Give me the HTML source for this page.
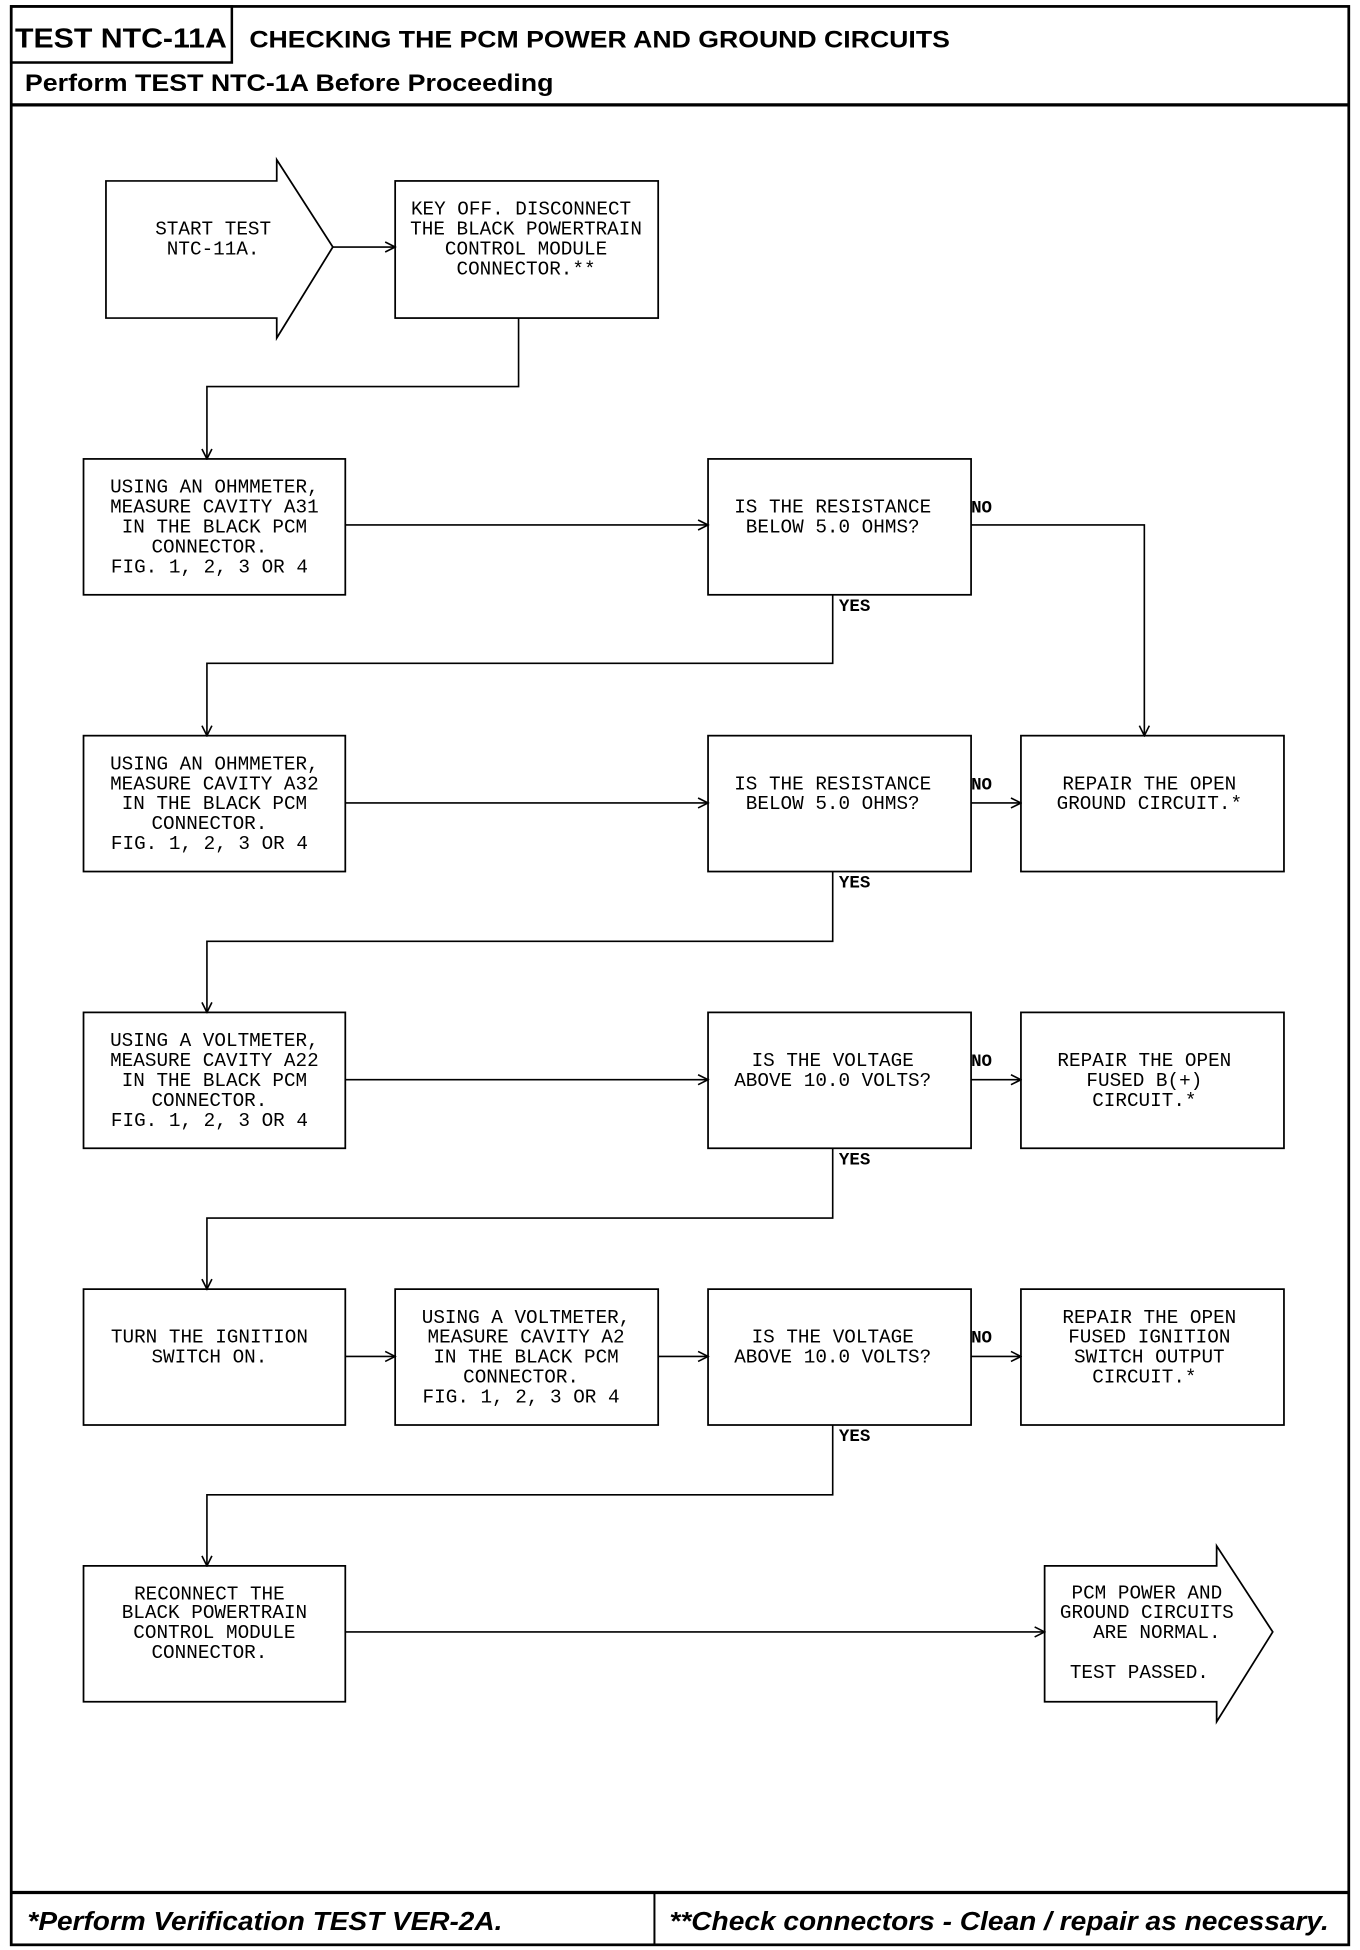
<!DOCTYPE html>
<html><head><meta charset="utf-8"><style>html,body{margin:0;padding:0;background:#fff}svg{display:block}</style></head>
<body>
<svg xmlns="http://www.w3.org/2000/svg" width="1360" height="1950" viewBox="0 0 1091 1564">
<defs><marker id="a" markerWidth="10" markerHeight="10" refX="9" refY="5" orient="auto" markerUnits="userSpaceOnUse"><path d="M1,1 L9,5 L1,9" fill="none" stroke="#000" stroke-width="1.3"/></marker></defs>
<g fill="none" stroke="#000">
<rect x="9" y="5" width="1073" height="1555" stroke-width="2.2"/>
<rect x="9" y="5" width="177" height="45" stroke-width="2"/>
<line x1="9" y1="84" x2="1082" y2="84" stroke-width="2.6"/>
<line x1="9" y1="1518" x2="1082" y2="1518" stroke-width="2.6"/>
<line x1="525" y1="1518" x2="525" y2="1560" stroke-width="1.6"/>
</g>
<g font-family="'Liberation Sans',sans-serif" font-weight="bold" fill="#000">
<text x="12" y="38" font-size="22" textLength="170" lengthAdjust="spacingAndGlyphs">TEST NTC-11A</text>
<text x="200" y="38" font-size="19" textLength="562" lengthAdjust="spacingAndGlyphs">CHECKING THE PCM POWER AND GROUND CIRCUITS</text>
<text x="20" y="73" font-size="19" textLength="424" lengthAdjust="spacingAndGlyphs">Perform TEST NTC-1A Before Proceeding</text>
<text x="22" y="1548" font-size="21" font-style="italic" textLength="381" lengthAdjust="spacingAndGlyphs">*Perform Verification TEST VER-2A.</text>
<text x="537" y="1548" font-size="21" font-style="italic" textLength="529" lengthAdjust="spacingAndGlyphs">**Check connectors - Clean / repair as necessary.</text>
</g>
<g fill="#fff" stroke="#000" stroke-width="1.4">
<path d="M85,145 H222 V128 L267,198 L222,271 V255 H85 Z"/>
<rect x="317" y="145" width="211" height="110"/>
<rect x="67" y="368" width="210" height="109"/>
<rect x="568" y="368" width="211" height="109"/>
<rect x="67" y="590" width="210" height="109"/>
<rect x="568" y="590" width="211" height="109"/>
<rect x="819" y="590" width="211" height="109"/>
<rect x="67" y="812" width="210" height="109"/>
<rect x="568" y="812" width="211" height="109"/>
<rect x="819" y="812" width="211" height="109"/>
<rect x="67" y="1034" width="210" height="109"/>
<rect x="317" y="1034" width="211" height="109"/>
<rect x="568" y="1034" width="211" height="109"/>
<rect x="819" y="1034" width="211" height="109"/>
<rect x="67" y="1256" width="210" height="109"/>
<path d="M838,1256 H976 V1240 L1021,1309 L976,1381 V1365 H838 Z"/>
</g>
<g fill="none" stroke="#000" stroke-width="1.3" marker-end="url(#a)">
<line x1="267" y1="198" x2="317" y2="198"/>
<polyline points="416,255 416,310 166,310 166,368"/>
<line x1="277" y1="421" x2="568" y2="421"/>
<polyline points="779,421 918,421 918,590"/>
<polyline points="668,477 668,532 166,532 166,590"/>
<line x1="277" y1="644" x2="568" y2="644"/>
<line x1="779" y1="644" x2="819" y2="644"/>
<polyline points="668,699 668,755 166,755 166,812"/>
<line x1="277" y1="866" x2="568" y2="866"/>
<line x1="779" y1="866" x2="819" y2="866"/>
<polyline points="668,921 668,977 166,977 166,1034"/>
<line x1="277" y1="1088" x2="317" y2="1088"/>
<line x1="528" y1="1088" x2="568" y2="1088"/>
<line x1="779" y1="1088" x2="819" y2="1088"/>
<polyline points="668,1143 668,1199 166,1199 166,1256"/>
<line x1="277" y1="1309" x2="838" y2="1309"/>
</g>
<g font-family="'Liberation Mono',monospace" font-size="15.5" fill="#000" text-anchor="middle">
<text x="171" y="188">START TEST</text><text x="171" y="204">NTC-11A.</text>
<text x="418" y="172">KEY OFF. DISCONNECT</text><text x="422" y="188">THE BLACK POWERTRAIN</text><text x="422" y="204">CONTROL MODULE</text><text x="422" y="220">CONNECTOR.**</text>
<text x="172" y="395">USING AN OHMMETER,</text><text x="172" y="411">MEASURE CAVITY A31</text><text x="172" y="427">IN THE BLACK PCM</text><text x="168" y="443">CONNECTOR.</text><text x="168" y="459">FIG. 1, 2, 3 OR 4</text>
<text x="668" y="411">IS THE RESISTANCE</text><text x="668" y="427">BELOW 5.0 OHMS?</text>
<text x="172" y="617">USING AN OHMMETER,</text><text x="172" y="633">MEASURE CAVITY A32</text><text x="172" y="649">IN THE BLACK PCM</text><text x="168" y="665">CONNECTOR.</text><text x="168" y="681">FIG. 1, 2, 3 OR 4</text>
<text x="668" y="633">IS THE RESISTANCE</text><text x="668" y="649">BELOW 5.0 OHMS?</text>
<text x="922" y="633">REPAIR THE OPEN</text><text x="922" y="649">GROUND CIRCUIT.*</text>
<text x="172" y="839">USING A VOLTMETER,</text><text x="172" y="855">MEASURE CAVITY A22</text><text x="172" y="871">IN THE BLACK PCM</text><text x="168" y="887">CONNECTOR.</text><text x="168" y="903">FIG. 1, 2, 3 OR 4</text>
<text x="668" y="855">IS THE VOLTAGE</text><text x="668" y="871">ABOVE 10.0 VOLTS?</text>
<text x="918" y="855">REPAIR THE OPEN</text><text x="918" y="871">FUSED B(+)</text><text x="918" y="887">CIRCUIT.*</text>
<text x="168" y="1077">TURN THE IGNITION</text><text x="168" y="1093">SWITCH ON.</text>
<text x="422" y="1061">USING A VOLTMETER,</text><text x="422" y="1077">MEASURE CAVITY A2</text><text x="422" y="1093">IN THE BLACK PCM</text><text x="418" y="1109">CONNECTOR.</text><text x="418" y="1125">FIG. 1, 2, 3 OR 4</text>
<text x="668" y="1077">IS THE VOLTAGE</text><text x="668" y="1093">ABOVE 10.0 VOLTS?</text>
<text x="922" y="1061">REPAIR THE OPEN</text><text x="922" y="1077">FUSED IGNITION</text><text x="922" y="1093">SWITCH OUTPUT</text><text x="918" y="1109">CIRCUIT.*</text>
<text x="168" y="1283">RECONNECT THE</text><text x="172" y="1298">BLACK POWERTRAIN</text><text x="172" y="1314">CONTROL MODULE</text><text x="168" y="1330">CONNECTOR.</text>
<text x="920" y="1282">PCM POWER AND</text><text x="920" y="1298">GROUND CIRCUITS</text><text x="928" y="1314">ARE NORMAL.</text><text x="914" y="1346">TEST PASSED.</text>
</g>
<g font-family="'Liberation Mono',monospace" font-size="14" font-weight="bold" fill="#000">
<text x="779" y="411">NO</text><text x="673" y="490">YES</text>
<text x="779" y="633">NO</text><text x="673" y="712">YES</text>
<text x="779" y="855">NO</text><text x="673" y="934">YES</text>
<text x="779" y="1077">NO</text><text x="673" y="1156">YES</text>
</g>
</svg>
</body></html>
